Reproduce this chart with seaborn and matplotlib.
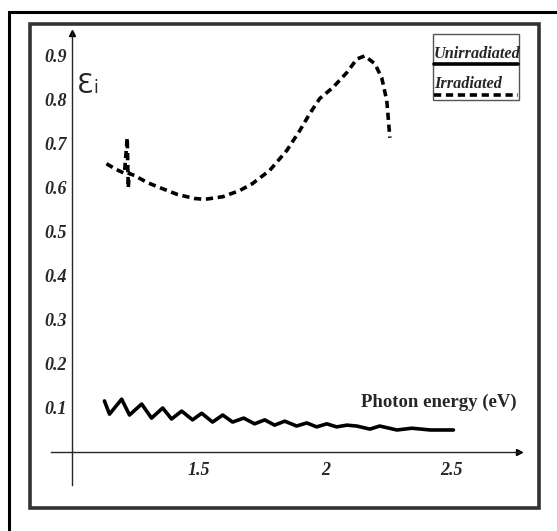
import numpy as np
import pandas as pd
import seaborn as sns
import matplotlib
matplotlib.use("Agg")
import matplotlib.pyplot as plt
from matplotlib.patches import Rectangle

# ---- data ----
unirr_x = [1.128, 1.148, 1.196, 1.227, 1.275, 1.314, 1.358, 1.393, 1.433, 1.476,
           1.512, 1.555, 1.595, 1.634, 1.678, 1.721, 1.761, 1.800, 1.840, 1.887,
           1.927, 1.966, 2.006, 2.045, 2.085, 2.124, 2.176, 2.215, 2.283, 2.342,
           2.415, 2.506]
unirr_y = [0.116, 0.086, 0.120, 0.084, 0.109, 0.077, 0.100, 0.075, 0.093, 0.073,
           0.088, 0.068, 0.084, 0.068, 0.077, 0.064, 0.073, 0.061, 0.070, 0.059,
           0.066, 0.057, 0.064, 0.057, 0.061, 0.059, 0.052, 0.059, 0.050, 0.054,
           0.050, 0.050]

irr_x = [1.136, 1.168, 1.207, 1.218, 1.222, 1.226, 1.247, 1.298, 1.354, 1.417,
         1.484, 1.524, 1.595, 1.662, 1.713, 1.781, 1.848, 1.899, 1.939, 1.978,
         2.030, 2.085, 2.125, 2.156, 2.196, 2.223, 2.243, 2.255]
irr_y = [0.655, 0.644, 0.633, 0.714, 0.600, 0.633, 0.628, 0.612, 0.599, 0.585,
         0.576, 0.574, 0.580, 0.594, 0.610, 0.640, 0.685, 0.730, 0.769, 0.803,
         0.828, 0.862, 0.893, 0.900, 0.882, 0.850, 0.798, 0.714]

y_ticks = [0.1, 0.2, 0.3, 0.4, 0.5, 0.6, 0.7, 0.8, 0.9]
y_tick_labels = ["0.1", "0.2", "0.3", "0.4", "0.5", "0.6", "0.7", "0.8", "0.9"]
x_ticks = [1.5, 2.0, 2.5]
x_tick_labels = ["1.5", "2", "2.5"]
series_names = ["Unirradiated", "Irradiated"]
x_label = "Photon energy (eV)"

sns.set_style("white")
plt.rcParams["font.family"] = ["Liberation Serif", "DejaVu Serif"]

W, H = 557, 531
fig = plt.figure(figsize=(W / 100, H / 100), dpi=100)

def fx(px):
    return px / W

def fy(py):
    return 1 - py / H

# frames
fig.patches.append(Rectangle((fx(9), fy(600)), fx(700) - fx(9), fy(12) - fy(600),
                             transform=fig.transFigure, fill=False, lw=2.2,
                             edgecolor="black", figure=fig, clip_on=False))
fig.patches.append(Rectangle((fx(30), fy(508)), fx(539) - fx(30), fy(24) - fy(508),
                             transform=fig.transFigure, fill=False, lw=2.6,
                             edgecolor="#333333", figure=fig))

ax = fig.add_axes([fx(51), fy(485), fx(519) - fx(51), fy(33) - fy(485)])
ax.set_xlim(0.917, 2.765)
ax.set_ylim(-0.075, 0.952)
ax.patch.set_alpha(0)

df_u = pd.DataFrame({"x": unirr_x, "y": unirr_y})
df_i = pd.DataFrame({"x": irr_x, "y": irr_y})
sns.lineplot(data=df_u, x="x", y="y", ax=ax, color="black", lw=2.6,
             sort=False, estimator=None, solid_joinstyle="round",
             solid_capstyle="round")
sns.lineplot(data=df_i, x="x", y="y", ax=ax, color="black", lw=2.6,
             sort=False, estimator=None, dashes=False)
ax.lines[-1].set_linestyle((0, (2.0, 1.3)))

for s in ["top", "right"]:
    ax.spines[s].set_visible(False)
ax.spines["left"].set_position(("data", 1.0))
ax.spines["bottom"].set_position(("data", 0.0))
ax.spines["left"].set_linewidth(1.0)
ax.spines["bottom"].set_linewidth(1.0)
ax.plot(1, 0, ">k", ms=4, transform=ax.get_yaxis_transform(), clip_on=False)
ax.plot(1.0, 1, "^k", ms=4, transform=ax.get_xaxis_transform(), clip_on=False)

tick_font = dict(family="Liberation Serif", weight="bold", style="italic", size=13)
ax.set_yticks(y_ticks)
ax.set_yticklabels(y_tick_labels, fontdict=tick_font)
ax.set_xticks(x_ticks)
ax.set_xticklabels(x_tick_labels, fontdict=tick_font)
ax.tick_params(axis="both", direction="inout", length=5, width=0.8, color="#555555", pad=1)
ax.tick_params(axis="x", pad=5)
ax.set_xlabel("")
ax.set_ylabel("")

# axis labels
fig.text(fx(77), fy(93), "Ɛ", family="DejaVu Sans", fontsize=19, va="baseline", ha="left")
fig.text(fx(93.5), fy(93), "i", family="DejaVu Sans", fontsize=12, va="baseline", ha="left")
fig.text(fx(517), fy(402), x_label, family="Liberation Serif", weight="bold",
         fontsize=13.5, ha="right", va="center")

# legend box
fig.patches.append(Rectangle((fx(433), fy(100)), fx(519) - fx(433), fy(34) - fy(100),
                             transform=fig.transFigure, fill=False, lw=1.0,
                             edgecolor="#555555", figure=fig))
leg_font = dict(family="Liberation Serif", weight="bold", style="italic", fontsize=11.7)
fig.text(fx(434), fy(58), series_names[0], ha="left", va="baseline", **leg_font)
fig.text(fx(434), fy(88), series_names[1], ha="left", va="baseline", **leg_font)
fig.lines.append(plt.Line2D([fx(434), fx(518)], [fy(64), fy(64)], transform=fig.transFigure,
                            color="black", lw=2.6))
fig.lines.append(plt.Line2D([fx(434), fx(518)], [fy(95), fy(95)], transform=fig.transFigure,
                            color="black", lw=2.6, linestyle=(0, (2.0, 1.3))))

fig.savefig("out.png", dpi=100)
